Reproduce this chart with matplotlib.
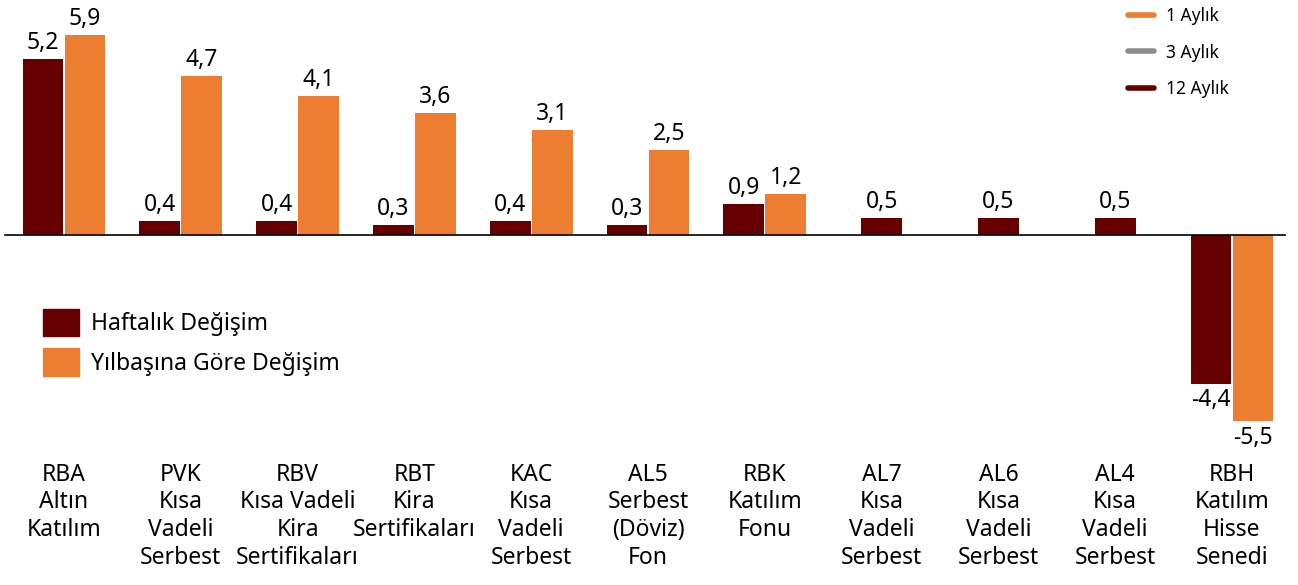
import matplotlib.pyplot as plt
from matplotlib.patches import Patch
from matplotlib.lines import Line2D

plt.rcParams['font.family'] = ['Noto Sans', 'DejaVu Sans']

# veriler
kategoriler = ['RBA\nAltın\nKatılım', 'PVK\nKısa\nVadeli\nSerbest', 'RBV\nKısa Vadeli\nKira\nSertifikaları',
               'RBT\nKira\nSertifikaları', 'KAC\nKısa\nVadeli\nSerbest', 'AL5\nSerbest\n(Döviz)\nFon',
               'RBK\nKatılım\nFonu', 'AL7\nKısa\nVadeli\nSerbest', 'AL6\nKısa\nVadeli\nSerbest',
               'AL4\nKısa\nVadeli\nSerbest', 'RBH\nKatılım\nHisse\nSenedi']
haftalik = [5.2, 0.4, 0.4, 0.3, 0.4, 0.3, 0.9, 0.5, 0.5, 0.5, -4.4]
yilbasi = [5.9, 4.7, 4.1, 3.6, 3.1, 2.5, 1.2, None, None, None, -5.5]

koyu = '#660000'
turuncu = '#ED7D31'

fig = plt.figure(figsize=(12.98, 5.85), dpi=100)
ax = fig.add_axes([0, 1 - 460 / 585, 1, 460 / 585])

x = list(range(len(kategoriler)))
w = 0.35
fs = 16.5

for i in x:
    h = haftalik[i]
    y = yilbasi[i]
    if y is None:
        xh = i
    else:
        xh = i - w / 2 - 0.005
    ax.bar(xh, h, width=w, color=koyu)
    if h >= 0:
        ax.text(xh, h + 0.12, f'{h:.1f}'.replace('.', ','), ha='center', va='bottom', fontsize=fs)
    else:
        ax.text(xh, h - 0.12, f'{h:.1f}'.replace('.', ','), ha='center', va='top', fontsize=fs)
    if y is not None:
        xy = i + w / 2 + 0.005
        ax.bar(xy, y, width=w, color=turuncu)
        if y >= 0:
            ax.text(xy, y + 0.12, f'{y:.1f}'.replace('.', ','), ha='center', va='bottom', fontsize=fs)
        else:
            ax.text(xy, y - 0.12, f'{y:.1f}'.replace('.', ','), ha='center', va='top', fontsize=fs)

ax.axhline(0, xmin=5 / 1298, xmax=1285 / 1298, color='black', lw=1.2)

ax.set_xlim(-64 / 116.8, (1298 - 64) / 116.8)
ax.set_ylim(-225 / 33.9, 235 / 33.9)
ax.set_xticks(x)
ax.set_xticklabels(kategoriler, fontsize=fs, linespacing=1.2)
ax.tick_params(axis='x', length=0, pad=2)
ax.set_yticks([])
for s in ax.spines.values():
    s.set_visible(False)

# alt sol lejant
leg1 = ax.legend(handles=[Patch(color=koyu, label='Haftalık Değişim'),
                          Patch(color=turuncu, label='Yılbaşına Göre Değişim')],
                 loc='upper left', bbox_to_anchor=(22 / 1298, 1 - 288 / 460), frameon=False,
                 fontsize=fs, handlelength=1.6, handleheight=1.45, labelspacing=0.55, handletextpad=0.5)
ax.add_artist(leg1)

# üst sağ lejant
ax.legend(handles=[Line2D([], [], color=turuncu, lw=4, solid_capstyle='round', label='1 Aylık'),
                   Line2D([], [], color='#8C8C8C', lw=4, solid_capstyle='round', label='3 Aylık'),
                   Line2D([], [], color=koyu, lw=4, solid_capstyle='round', label='12 Aylık')],
          loc='upper left', bbox_to_anchor=(1112 / 1298, 1.018), frameon=False,
          fontsize=12.5, handlelength=1.5, labelspacing=1.05, handletextpad=0.7)

plt.savefig('out.png', dpi=100)
